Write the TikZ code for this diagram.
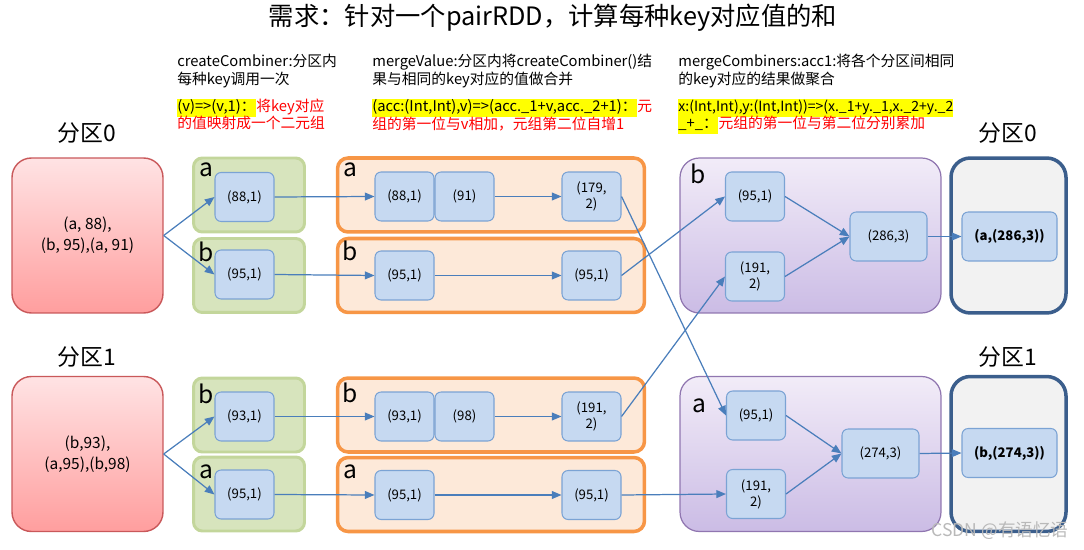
\documentclass[tikz,border=0pt]{standalone}
\usepackage{fontspec}
\setmainfont{Noto Sans CJK SC}
\usetikzlibrary{arrows.meta}

\definecolor{azulflecha}{HTML}{4A7EBB}
\definecolor{azulcaja}{HTML}{C6D9F1}
\definecolor{azulborde}{HTML}{7BA3D4}
\definecolor{verdecaja}{HTML}{D7E4BD}
\definecolor{verdeborde}{HTML}{C3D69B}
\definecolor{naranjacaja}{HTML}{FDE9D9}
\definecolor{naranjaborde}{HTML}{F79646}
\definecolor{rojoarriba}{HTML}{FFE3E4}
\definecolor{rojoabajo}{HTML}{FF9E9E}
\definecolor{rojoborde}{HTML}{C9585A}
\definecolor{moradoarriba}{HTML}{F2ECF8}
\definecolor{moradoabajo}{HTML}{CBBCE5}
\definecolor{moradoborde}{HTML}{9076B0}
\definecolor{grisfondo}{HTML}{F2F2F2}
\definecolor{grisborde}{HTML}{3B5E8C}
\definecolor{resalte}{HTML}{FFFF00}
\definecolor{rojonota}{HTML}{FF0000}

\tikzset{
	caja/.style={draw=azulborde, fill=azulcaja, line width=0.6pt, rounded corners=3.5pt, minimum width=1.18cm, minimum height=0.98cm, inner sep=0pt, align=center, font=\fontsize{7.5}{9}\selectfont},
	particion/.style={draw=rojoborde, line width=0.8pt, top color=rojoarriba, bottom color=rojoabajo, rounded corners=11pt, minimum width=3.02cm, minimum height=3.1cm, align=center, font=\fontsize{8.8}{12}\selectfont},
	grupoverde/.style={draw=verdeborde, fill=verdecaja, line width=1.7pt, rounded corners=5pt, minimum width=2.22cm, minimum height=1.48cm},
	gruponaranja/.style={draw=naranjaborde, fill=naranjacaja, line width=2pt, rounded corners=6pt, minimum width=6.14cm, minimum height=1.48cm},
	grupomorado/.style={draw=moradoborde, line width=0.7pt, top color=moradoarriba, bottom color=moradoabajo, rounded corners=11pt, minimum width=5.22cm, minimum height=3.1cm},
	grupogris/.style={draw=grisborde, fill=grisfondo, line width=2pt, rounded corners=11pt, minimum width=2.3cm, minimum height=3.1cm},
	letra/.style={anchor=base, inner sep=0pt, font=\fontsize{14}{16}\selectfont},
	etiqpart/.style={font=\fontsize{13}{15}\selectfont},
	titulo/.style={font=\fontsize{14.4}{17}\selectfont},
	nota/.style={anchor=base west, inner sep=0pt, font=\fontsize{8.4}{10}\selectfont},
	resaltado/.style={nota, fill=resalte, text height=6.6pt, text depth=2.2pt, inner ysep=0.8pt},
	flecha/.style={azulflecha, line width=0.7pt, -{Triangle[length=5.5pt,width=4.5pt]}},
	marca/.style={gray!55, font=\fontsize{10}{12}\selectfont}
}

\begin{document}
\begin{tikzpicture}[x=0.02cm, y=-0.02cm]
	\useasboundingbox (0,0) rectangle (1084,550);
	% Titulo
		\node[titulo] (titulo) at (553,18) {需求：针对一个pairRDD，计算每种key对应值的和};

	% Notas
		% createCombiner
			\node[nota] (nc1) at (177,67) {createCombiner:分区内};
			\node[nota] (nc2) at (177,85) {每种key调用一次};
			\node[resaltado] (nc3) at (177,112) {(v)=>(v,1)：};
			\node[nota, rojonota] (nc3r) at (nc3.base east) {将key对应};
			\node[nota, rojonota] (nc4) at (177,129) {的值映射成一个二元组};
		% mergeValue
			\node[nota] (nv1) at (372,67) {mergeValue:分区内将createCombiner()结};
			\node[nota] (nv2) at (372,85) {果与相同的key对应的值做合并};
			\node[resaltado] (nv3) at (372,112) {(acc:(Int,Int),v)=>(acc.\_1+v,acc.\_2+1)：};
			\node[nota, rojonota] (nv3r) at (nv3.base east) {元};
			\node[nota, rojonota] (nv4) at (372,130) {组的第一位与v相加，元组第二位自增1};
		% mergeCombiners
			\node[nota] (nm1) at (678,67) {mergeCombiners:acc1:将各个分区间相同};
			\node[nota] (nm2) at (678,85) {的key对应的结果做聚合};
			\node[resaltado, font=\fontsize{8}{10}\selectfont] (nm3) at (678,112) {x:(Int,Int),y:(Int,Int))=>(x.\_1+y.\_1,x.\_2+y.\_2};
			\node[resaltado] (nm4) at (678,129) {\_+\_：};
			\node[nota, rojonota] (nm4r) at (nm4.base east) {元组的第一位与第二位分别累加};

	% Particiones
		\node[etiqpart] (part0) at (87,133) {分区0};
		\node[etiqpart] (part1) at (87,357) {分区1};
		\node[etiqpart] (salida0) at (1008,133) {分区0};
		\node[etiqpart] (salida1) at (1008,357) {分区1};
		\node[particion] (datos0) at (87.5,235.5) {(a, 88),\\(b, 95),(a, 91)};
		\node[particion] (datos1) at (87.5,454) {(b,93),\\(a,95),(b,98)};

	% Cajas de fondo
		\node[grupoverde] (gv0a) at (249,195) {};
		\node[grupoverde] (gv0b) at (249,275.5) {};
		\node[grupoverde] (gv1b) at (249,415) {};
		\node[grupoverde] (gv1a) at (249,494) {};
		\node[gruponaranja] (gn0a) at (491,195) {};
		\node[gruponaranja] (gn0b) at (491,275.5) {};
		\node[gruponaranja] (gn1b) at (491,415) {};
		\node[gruponaranja] (gn1a) at (491,494.5) {};
		\node[grupomorado] (gm0) at (810.5,235.5) {};
		\node[grupomorado] (gm1) at (810.5,454) {};
		\node[grupogris] (gg0) at (1008.5,235.5) {};
		\node[grupogris] (gg1) at (1008.5,454) {};
		% Letras
			\node[letra] (lv0a) at (206,177) {a};
			\node[letra] (lv0b) at (206,262) {b};
			\node[letra] (lv1b) at (206,403) {b};
			\node[letra] (lv1a) at (206,478) {a};
			\node[letra] (ln0a) at (350,177) {a};
			\node[letra] (ln0b) at (350,261) {b};
			\node[letra] (ln1b) at (350,402) {b};
			\node[letra] (ln1a) at (350,478) {a};
			\node[letra] (lm0) at (698,184) {b};
			\node[letra] (lm1) at (699,412) {a};

	% createCombiner
		\node[caja] (cc0a) at (244.5,197) {(88,1)};
		\node[caja] (cc0b) at (244.5,274.5) {(95,1)};
		\node[caja] (cc1b) at (244.5,416.5) {(93,1)};
		\node[caja] (cc1a) at (244.5,494.5) {(95,1)};
	% mergeValue
		\node[caja] (mv0a1) at (404.5,196.5) {(88,1)};
		\node[caja] (mv0a2) at (464.5,196.5) {(91)};
		\node[caja] (mv0a3) at (591.5,196.5) {(179,\\2)};
		\node[caja] (mv0b1) at (404.5,275.5) {(95,1)};
		\node[caja] (mv0b3) at (591.5,275.5) {(95,1)};
		\node[caja] (mv1b1) at (404.5,416.5) {(93,1)};
		\node[caja] (mv1b2) at (464.5,416.5) {(98)};
		\node[caja] (mv1b3) at (591.5,416.5) {(191,\\2)};
		\node[caja] (mv1a1) at (404.5,495) {(95,1)};
		\node[caja] (mv1a3) at (591.5,495) {(95,1)};
	% mergeCombiners
		\node[caja] (mc0x) at (755,196.5) {(95,1)};
		\node[caja] (mc0y) at (755,276.5) {(191,\\2)};
		\node[caja, minimum width=1.54cm] (mc0z) at (888.5,236.5) {(286,3)};
		\node[caja] (mc1x) at (756,415.5) {(95,1)};
		\node[caja] (mc1y) at (756,494) {(191,\\2)};
		\node[caja, minimum width=1.54cm] (mc1z) at (880.5,453.5) {(274,3)};
	% Resultado
		\node[caja, minimum width=1.9cm, font=\fontsize{7.5}{9}\selectfont\bfseries] (res0) at (1009.5,236.5) {(a,(286,3))};
		\node[caja, minimum width=1.9cm, font=\fontsize{7.5}{9}\selectfont\bfseries] (res1) at (1009.5,453) {(b,(274,3))};

	% Flechas
		\draw[flecha] (datos0.east) -- (cc0a.west);
		\draw[flecha] (datos0.east) -- (cc0b.west);
		\draw[flecha] (datos1.east) -- (cc1b.west);
		\draw[flecha] (datos1.east) -- (cc1a.west);
		\draw[flecha] (cc0a.east) -- (mv0a1.west);
		\draw[flecha] (cc0b.east) -- (mv0b1.west);
		\draw[flecha] (cc1b.east) -- (mv1b1.west);
		\draw[flecha] (cc1a.east) -- (mv1a1.west);
		\draw[flecha] (mv0a2.east) -- (mv0a3.west);
		\draw[flecha] (mv0b1.east) -- (mv0b3.west);
		\draw[flecha] (mv1b2.east) -- (mv1b3.west);
		\draw[flecha] (mv1a1.east) -- (mv1a3.west);
		% Cruces
			\draw[flecha] (mv0a3.east) -- (mc1x.west);
			\draw[flecha] (mv0b3.east) -- (mc0x.west);
			\draw[flecha] (mv1b3.east) -- (mc0y.west);
			\draw[flecha] (mv1a3.east) -- (mc1y.west);
		\draw[flecha] (mc0x.east) -- (mc0z.west);
		\draw[flecha] (mc0y.east) -- (mc0z.west);
		\draw[flecha] (mc1x.east) -- (mc1z.west);
		\draw[flecha] (mc1y.east) -- (mc1z.west);
		\draw[flecha] (mc0z.east) -- (res0.west);
		\draw[flecha] (mc1z.east) -- (res1.west);

	% Marca
		\node[marca] (csdn) at (1000,531) {CSDN @有语忆语};
\end{tikzpicture}
\end{document}
